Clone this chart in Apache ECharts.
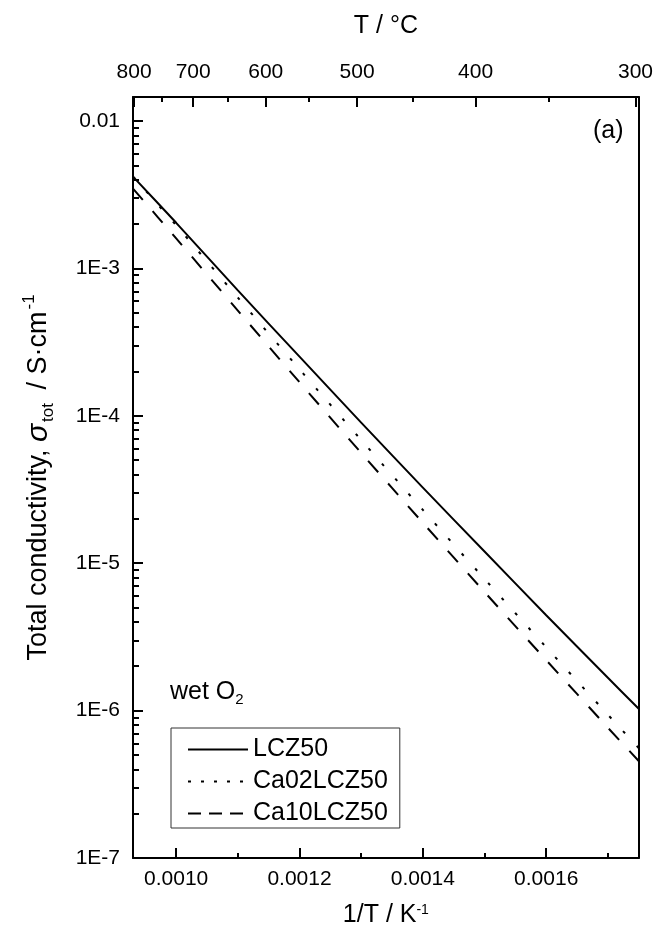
<!DOCTYPE html>
<html>
<head>
<meta charset="utf-8">
<script src="https://cdn.jsdelivr.net/npm/echarts@6/dist/echarts.min.js"></script>
<style>
  html, body { margin: 0; padding: 0; background: #fff; }
  #chart { width: 656px; height: 938px; }
</style>
</head>
<body>
<div id="chart"></div>
<script>
// 1/T positions (K^-1) where the curves were read
var invT = [0.00093, 0.0010, 0.0011, 0.0012, 0.0013, 0.0014, 0.0015, 0.0016, 0.0017, 0.00175];
// total conductivity, S/cm
var lcz50   = [4.2e-3, 2.04e-3, 7.1e-4, 2.52e-4, 9.0e-5, 3.26e-5, 1.2e-5, 4.44e-6, 1.67e-6, 1.03e-6];
var ca02    = [4.2e-3, 1.96e-3, 6.34e-4, 2.07e-4, 6.86e-5, 2.30e-5, 7.82e-6, 2.69e-6, 9.38e-7, 5.57e-7];
var ca10    = [3.48e-3, 1.60e-3, 5.18e-4, 1.69e-4, 5.6e-5, 1.88e-5, 6.38e-6, 2.2e-6, 7.66e-7, 4.55e-7];

var xMajor = [0.0010, 0.0012, 0.0014, 0.0016];
var xMinor = [0.0011, 0.0013, 0.0015, 0.0017];
var tempMajor = [800, 700, 600, 500, 400, 300];
var tempMinor = [750, 650, 550, 450, 350];
var yDecades = [1e-7, 1e-6, 1e-5, 1e-4, 1e-3, 1e-2];

var X_MIN = 0.00093, X_MAX = 0.00175;
var Y_MIN = 1e-7, Y_MAX = 0.01456;
var FONT = 'Liberation Sans, Arial, sans-serif';

function toInv(t) { return 1 / (t + 273.15); }
function pairs(xs, ys) { return xs.map(function (x, i) { return [x, ys[i]]; }); }

var yMinorVals = [];
for (var n = -7; n <= -2; n++) {
    for (var k = 2; k <= 9; k++) {
        var v = k * Math.pow(10, n);
        if (v < Y_MAX) yMinorVals.push(v);
    }
}

var chart = echarts.init(document.getElementById('chart'), null, {renderer: 'canvas'});

var axisLineStyle = {color: '#000', width: 2};
var lbl = {color: '#000', fontSize: 21, fontFamily: FONT};
var hideSym = {opacity: 0};

var option = {
    animation: false,
    backgroundColor: '#fff',
    textStyle: {fontFamily: FONT, color: '#000'},
    grid: {left: 133, right: 16, top: 97, bottom: 80, containLabel: false},
    xAxis: [{
        type: 'value', position: 'bottom', min: X_MIN, max: X_MAX,
        axisLine: {show: true, lineStyle: axisLineStyle},
        splitLine: {show: false},
        axisTick: {show: true, inside: true, length: 10, lineStyle: axisLineStyle, customValues: xMajor},
        axisLabel: Object.assign({customValues: xMajor, margin: 11,
            formatter: function (v) { return v.toFixed(4); }}, lbl),
        name: '1/T / K{sup|-1}', nameLocation: 'middle', nameGap: 45,
        nameTextStyle: {color: '#000', fontSize: 25, fontFamily: FONT,
            rich: {sup: {fontSize: 14, verticalAlign: 'top', fontFamily: FONT, color: '#000'}}}
    }, {
        type: 'value', position: 'bottom', min: X_MIN, max: X_MAX,
        axisLine: {show: false}, splitLine: {show: false}, axisLabel: {show: false},
        axisTick: {show: true, inside: true, length: 5, lineStyle: axisLineStyle, customValues: xMinor}
    }, {
        type: 'value', position: 'top', min: X_MIN, max: X_MAX,
        axisLine: {show: true, lineStyle: axisLineStyle},
        splitLine: {show: false},
        axisTick: {show: true, inside: true, length: 10, lineStyle: axisLineStyle, customValues: tempMajor.map(toInv)},
        axisLabel: Object.assign({customValues: tempMajor.map(toInv), margin: 14,
            formatter: function (v) { return String(Math.round(1 / v - 273.15)); }}, lbl),
        name: 'T / °C', nameLocation: 'middle', nameGap: 58,
        nameTextStyle: {color: '#000', fontSize: 25, fontFamily: FONT}
    }, {
        type: 'value', position: 'top', min: X_MIN, max: X_MAX,
        axisLine: {show: false}, splitLine: {show: false}, axisLabel: {show: false},
        axisTick: {show: true, inside: true, length: 5, lineStyle: axisLineStyle, customValues: tempMinor.map(toInv)}
    }],
    yAxis: [{
        type: 'log', logBase: 10, position: 'left', min: Y_MIN, max: Y_MAX,
        axisLine: {show: true, lineStyle: axisLineStyle},
        splitLine: {show: false},
        axisTick: {show: true, inside: true, length: 10, lineStyle: axisLineStyle, customValues: yDecades},
        axisLabel: Object.assign({customValues: yDecades, margin: 13,
            formatter: function (v) {
                var e = Math.round(Math.log10(v));
                return e === -2 ? '0.01' : '1E' + e;
            }}, lbl),
        name: '{a|Total conductivity, }{s|σ}{sub|tot}{a| / S·cm}{sup|-1}',
        nameLocation: 'middle', nameGap: 76,
        nameTextStyle: {color: '#000', fontSize: 27, fontFamily: FONT,
            rich: {
                a: {fontSize: 27, fontFamily: FONT, color: '#000', lineHeight: 36},
                s: {fontSize: 30, fontFamily: FONT, color: '#000', fontStyle: 'italic'},
                sub: {fontSize: 17, fontFamily: FONT, color: '#000', verticalAlign: 'bottom', padding: [0, 6, 0, 2]},
                sup: {fontSize: 17, fontFamily: FONT, color: '#000', verticalAlign: 'top', padding: [0, 0, 0, 2]}
            }}
    }, {
        type: 'log', logBase: 10, position: 'left', min: Y_MIN, max: Y_MAX,
        axisLine: {show: false}, splitLine: {show: false}, axisLabel: {show: false},
        axisTick: {show: true, inside: true, length: 6, lineStyle: axisLineStyle, customValues: yMinorVals}
    }, {
        type: 'log', logBase: 10, position: 'right', min: Y_MIN, max: Y_MAX,
        axisLine: {show: true, lineStyle: axisLineStyle},
        splitLine: {show: false}, axisLabel: {show: false}, axisTick: {show: false}
    }],
    legend: {
        orient: 'vertical', left: 171, top: 728,
        itemWidth: 60, itemHeight: 14, itemGap: 7,
        borderColor: '#333', borderWidth: 1, borderRadius: 0,
        padding: [9, 12, 2, 16],
        textStyle: {color: '#000', fontSize: 25, fontFamily: FONT},
        data: [
            {name: 'LCZ50', itemStyle: hideSym},
            {name: 'Ca02LCZ50', itemStyle: hideSym, lineStyle: {type: [3, 10]}},
            {name: 'Ca10LCZ50', itemStyle: hideSym, lineStyle: {type: [13, 8]}}
        ]
    },
    graphic: [{
        type: 'text', left: 593, top: 119,
        style: {text: '(a)', fontSize: 25, fontFamily: FONT, fill: '#000'}
    }, {
        type: 'text', left: 170, top: 680,
        style: {
            text: '{a|wet O}{sub|2}',
            rich: {
                a: {fontSize: 25, fontFamily: FONT, fill: '#000', lineHeight: 30},
                sub: {fontSize: 15, fontFamily: FONT, fill: '#000', verticalAlign: 'bottom'}
            }
        }
    }],
    series: [{
        name: 'LCZ50', type: 'line', smooth: 0.3, showSymbol: false, symbol: 'none',
        xAxisIndex: 0, yAxisIndex: 0,
        itemStyle: {color: '#000'},
        lineStyle: {color: '#000', width: 2, type: 'solid'},
        data: pairs(invT, lcz50)
    }, {
        name: 'Ca02LCZ50', type: 'line', smooth: 0.3, showSymbol: false, symbol: 'none',
        xAxisIndex: 0, yAxisIndex: 0,
        itemStyle: {color: '#000'},
        lineStyle: {color: '#000', width: 2, type: [3, 17]},
        data: pairs(invT, ca02)
    }, {
        name: 'Ca10LCZ50', type: 'line', smooth: 0.3, showSymbol: false, symbol: 'none',
        xAxisIndex: 0, yAxisIndex: 0,
        itemStyle: {color: '#000'},
        lineStyle: {color: '#000', width: 2, type: [15, 15]},
        data: pairs(invT, ca10)
    }]
};

chart.setOption(option);
</script>
</body>
</html>
